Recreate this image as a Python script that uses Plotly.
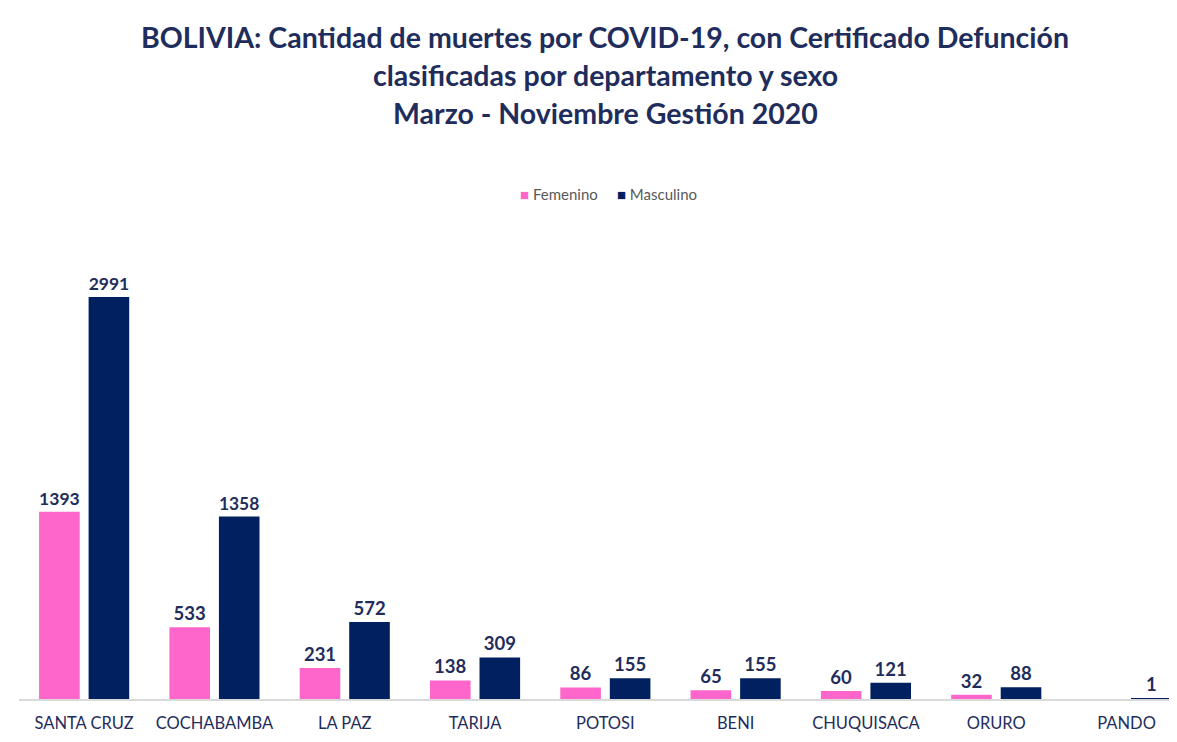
import plotly.graph_objects as go

departamentos = ["SANTA CRUZ", "COCHABAMBA", "LA PAZ", "TARIJA", "POTOSI",
                 "BENI", "CHUQUISACA", "ORURO", "PANDO"]
femenino = [1393, 533, 231, 138, 86, 65, 60, 32, 0]
masculino = [2991, 1358, 572, 309, 155, 155, 121, 88, 1]
series_names = ["Femenino", "Masculino"]

NAVY = "#002060"
PINK = "#FF66CC"
TXT = "#1F2D5C"

# page has an 8px body margin, so figure coords = page coords - 8
W, H = 1161, 726
ml, mr, mt, mb = 11, 0, 194, 35
plot_h = H - mt - mb
plot_w = W - ml - mr

def lbl(vals):
    return [str(v) if v else "" for v in vals]

fig = go.Figure()
for name, vals, col in [(series_names[0], femenino, PINK), (series_names[1], masculino, NAVY)]:
    fig.add_trace(go.Bar(x=departamentos, y=vals, name=name,
                         marker=dict(color=col, line=dict(width=0)),
                         text=lbl(vals), textposition="outside", cliponaxis=False,
                         textfont=dict(family="Lato", size=18.5, color=TXT, weight="bold"),
                         showlegend=False))

def fx(px):
    return (px - 8 - ml) / plot_w

def fy(py):
    return (H - mb - (py - 8)) / plot_h

titles = [("BOLIVIA: Cantidad de muertes por COVID-19, con Certificado Defunción", 37),
          ("clasificadas por departamento y sexo", 75),
          ("Marzo - Noviembre Gestión 2020", 113)]
annotations = []
for t, py in titles:
    annotations.append(dict(text=t, xref="paper", x=fx(605), xanchor="center",
                            yref="paper", y=fy(py), yanchor="middle",
                            showarrow=False,
                            font=dict(family="Lato", size=28.5, color=TXT, weight="bold")))

legend_text = (f'<span style="color:{PINK}">■</span> {series_names[0]}'
               f'     <span style="color:{NAVY}">■</span> {series_names[1]}')
annotations.append(dict(text=legend_text, xref="paper", x=fx(608), xanchor="center",
                        yref="paper", y=fy(194), yanchor="middle", showarrow=False,
                        font=dict(family="Lato", size=15, color="#595959")))

fig.update_layout(
    width=W, height=H,
    margin=dict(l=ml, r=mr, t=mt, b=mb, autoexpand=False),
    paper_bgcolor="white", plot_bgcolor="white",
    barmode="group", bargap=0.24, bargroupgap=0.18,
    showlegend=False,
    annotations=annotations,
    xaxis=dict(range=[-0.5, -0.5 + plot_w / 130.3], showgrid=False,
               showline=True, linecolor="#D9D9D9", linewidth=1.5,
               ticks="", ticklabelstandoff=8,
               tickfont=dict(family="Lato", size=16.5, color=TXT)),
    yaxis=dict(range=[0, plot_h / 0.1344], visible=False, showgrid=False),
)

fig.write_html("out.html")
